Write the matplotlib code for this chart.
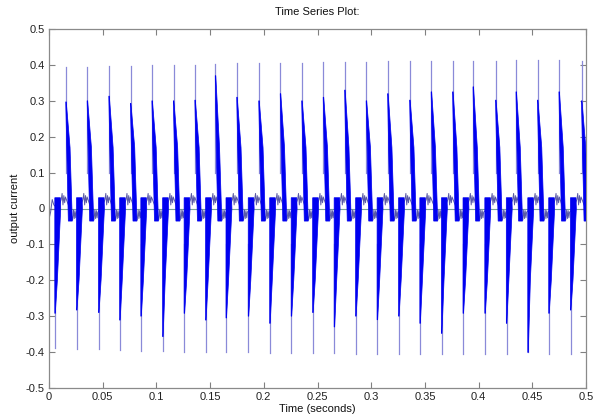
import matplotlib
matplotlib.use("Agg")
import matplotlib.pyplot as plt

# ---- data ----
title = "Time Series Plot:"
xlabel = "Time (seconds)"
ylabel = "output current"

x_ticks = [0, 0.05, 0.1, 0.15, 0.2, 0.25, 0.3, 0.35, 0.4, 0.45, 0.5]
x_tick_labels = ["0", "0.05", "0.1", "0.15", "0.2", "0.25", "0.3", "0.35", "0.4", "0.45", "0.5"]
y_ticks = [-0.5, -0.4, -0.3, -0.2, -0.1, 0, 0.1, 0.2, 0.3, 0.4, 0.5]
y_tick_labels = ["-0.5", "-0.4", "-0.3", "-0.2", "-0.1", "0", "0.1", "0.2", "0.3", "0.4", "0.5"]

# positive bursts (time, spike peak, dense envelope top)
pos_times = [0.0158, 0.0357, 0.0559, 0.0760, 0.0960, 0.1160, 0.1360, 0.1550, 0.1750,
             0.1955, 0.2155, 0.2355, 0.2555, 0.2755, 0.2955, 0.3155, 0.3360, 0.3560,
             0.3760, 0.3950, 0.4160, 0.4350, 0.4550, 0.4750, 0.4960]
pos_peak = [0.395, 0.394, 0.396, 0.397, 0.399, 0.399, 0.401, 0.403, 0.404, 0.405,
            0.405, 0.406, 0.407, 0.408, 0.409, 0.410, 0.411, 0.411, 0.412, 0.412,
            0.412, 0.413, 0.413, 0.413, 0.412]
pos_env = [0.297, 0.300, 0.313, 0.293, 0.300, 0.300, 0.302, 0.370, 0.310, 0.300,
           0.320, 0.300, 0.310, 0.330, 0.300, 0.320, 0.302, 0.325, 0.325, 0.339,
           0.302, 0.325, 0.302, 0.325, 0.300]
pos_base = -0.035

# negative bursts
neg_times = [0.0056, 0.0258, 0.0463, 0.0660, 0.0857, 0.1060, 0.1260, 0.1460, 0.1650,
             0.1857, 0.2057, 0.2257, 0.2457, 0.2657, 0.2857, 0.3057, 0.3257, 0.3455,
             0.3656, 0.3857, 0.4060, 0.4260, 0.4460, 0.4655, 0.4857]
neg_peak = [-0.389, -0.391, -0.391, -0.394, -0.396, -0.396, -0.399, -0.399, -0.401,
            -0.401, -0.402, -0.402, -0.403, -0.403, -0.404, -0.404, -0.405, -0.405,
            -0.405, -0.405, -0.405, -0.405, -0.401, -0.405, -0.405]
neg_env = [-0.292, -0.283, -0.290, -0.311, -0.300, -0.357, -0.292, -0.311, -0.305,
           -0.300, -0.320, -0.300, -0.290, -0.330, -0.300, -0.310, -0.300, -0.320,
           -0.348, -0.292, -0.292, -0.320, -0.401, -0.292, -0.283]
neg_base = 0.03

# low-level ripple between bursts (time after burst start, value)
ripple_after_neg_dt = [0.0058, 0.0066, 0.0074, 0.0082, 0.0090, 0.0097]
ripple_after_neg_v = [0.025, 0.042, 0.010, 0.036, 0.016, 0.032]
ripple_after_pos_dt = [0.0062, 0.0070, 0.0077, 0.0084, 0.0091, 0.0097]
ripple_after_pos_v = [-0.032, -0.004, -0.028, -0.006, -0.026, -0.010]
start_t = [0.0, 0.0015, 0.003, 0.0045]
start_v = [-0.030, -0.010, 0.025, 0.010]

# ---- figure ----
plt.rcParams['font.family'] = ['Liberation Sans', 'DejaVu Sans']
fig = plt.figure(figsize=(5.95, 4.16), dpi=100)
ax = fig.add_axes([49 / 595, 1 - 388 / 416, 537 / 595, 359 / 416])

BLUE = '#0000f0'
SPIKE = '#8a8ad8'
THIN = '#5a5aa6'

ax.axhline(0, color='#7aa296', lw=0.8, zorder=1)

# continuous thin ripple line (passes through the middle of each burst)
lt, lv = list(start_t), list(start_v)
for tn, tp in zip(neg_times, pos_times):
    lt.append(tn + 0.0025)
    lv.append(0.0)
    lt += [tn + d for d in ripple_after_neg_dt]
    lv += ripple_after_neg_v
    lt.append(tp + 0.0035)
    lv.append(0.0)
    lt += [tp + d for d in ripple_after_pos_dt]
    lv += ripple_after_pos_v
ax.plot(lt, lv, color=THIN, lw=0.7, zorder=2)

# spikes
for t, p in zip(pos_times, pos_peak):
    ax.plot([t, t], [0.1, p], color=SPIKE, lw=0.9, zorder=3)
for t, p in zip(neg_times, neg_peak):
    ax.plot([t, t], [-0.1, p], color=SPIKE, lw=0.9, zorder=3)

# dense oscillation wedges
for t, e in zip(pos_times, pos_env):
    xs = [t - 0.0002, t + 0.0003, t + 0.0038, t + 0.0059, t + 0.0022, t + 0.0007]
    ys = [e, e, 0.17, pos_base, pos_base, 0.17]
    ax.fill(xs, ys, color=BLUE, lw=0.5, zorder=4)
for t, e in zip(neg_times, neg_env):
    xs = [t - 0.0002, t + 0.0003, t + 0.0022, t + 0.0053, t + 0.0050, t - 0.0002]
    ys = [e, e, -0.2, 0.0, neg_base, neg_base]
    ax.fill(xs, ys, color=BLUE, lw=0.5, zorder=4)

ax.set_xlim(0, 0.5)
ax.set_ylim(-0.5, 0.5)
ax.set_xticks(x_ticks)
ax.set_xticklabels(x_tick_labels)
ax.set_yticks(y_ticks)
ax.set_yticklabels(y_tick_labels)
ax.tick_params(direction='in', length=4, width=0.8, colors='#808080',
               labelcolor='#222222', labelsize=8, top=True, right=True, pad=3)
for s in ax.spines.values():
    s.set_color('#8a8a8a')
    s.set_linewidth(0.9)

ax.set_title(title, fontsize=8, color='#111111', pad=10)
ax.set_xlabel(xlabel, fontsize=8, color='#111111', labelpad=1)
ax.set_ylabel(ylabel, fontsize=8, color='#111111', labelpad=4)

fig.savefig('out.png', dpi=100)
